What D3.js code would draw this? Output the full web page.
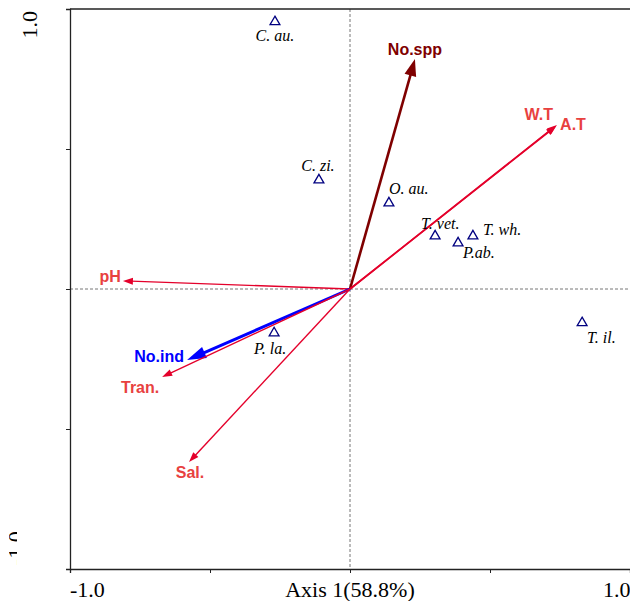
<!DOCTYPE html>
<html>
<head>
<meta charset="utf-8">
<script src="https://cdn.jsdelivr.net/npm/d3@7"></script>
<style>
  body { margin: 0; background: #fff; }
  svg { display: block; }
</style>
</head>
<body>
<div id="chart"></div>
<script>
// species scores (axis 1, axis 2)
const species = ["C. au.", "C. zi.", "O. au.", "T. vet.", "P.ab.", "T. wh.", "T. il.", "P. la."]
const spX = [-0.268, -0.111, 0.139, 0.304, 0.386, 0.439, 0.829, -0.271]
const spY = [0.954, 0.389, 0.307, 0.189, 0.164, 0.189, -0.121, -0.157]

// variable arrows
const vars = ["No.spp", "W.T", "A.T", "pH", "No.ind", "Tran.", "Sal."]
const varX = [0.232, 0.739, 0.736, -0.811, -0.582, -0.671, -0.575]
const varY = [0.821, 0.586, 0.582, 0.029, -0.254, -0.314, -0.618]

const xTicks = [-1, -0.5, 0, 0.5, 1]
const yTicks = [-1, -0.5, 0, 0.5, 1]
const xTitle = "Axis 1(58.8%)"

const width = 630, height = 601
const pLeft = 70, pRight = 630, pTop = 9, pBottom = 569

const x = d3.scaleLinear().domain([-1, 1]).range([pLeft, pRight])
const y = d3.scaleLinear().domain([-1, 1]).range([pBottom, pTop])

const svg = d3.select('#chart').append('svg')
  .attr('width', width).attr('height', height)

// styles for arrows (line colour, label colour, width, head)
const arrowStyle = {
  "No.spp": { c: "#7f0000", lc: "#7f0000", w: 2.6, hl: 17, hw: 12, dx: 0, dy: -4, anchor: "middle" },
  "W.T": { c: "#e4002b", lc: "#e8413f", w: 1.6, hl: 10, hw: 7, dx: -4, dy: -5, anchor: "end" },
  "A.T": { c: "#e4002b", lc: "#e8413f", w: 1.6, hl: 10, hw: 7, dx: 4, dy: 4, anchor: "start" },
  "pH": { c: "#e4002b", lc: "#e8413f", w: 1.4, hl: 10, hw: 7, dx: -2, dy: 1, anchor: "end" },
  "No.ind": { c: "#0000ff", lc: "#0000ff", w: 3, hl: 19, hw: 12, dx: -3, dy: 2, anchor: "end" },
  "Tran.": { c: "#e4002b", lc: "#e8413f", w: 1.4, hl: 10, hw: 7, dx: -22, dy: 16, anchor: "middle" },
  "Sal.": { c: "#e4002b", lc: "#e8413f", w: 1.4, hl: 10, hw: 7, dx: 1, dy: 16, anchor: "middle" }
}

// label offsets for species
const spLab = {
  "C. au.": [0, 19, "middle"],
  "C. zi.": [-1, -9, "middle"],
  "O. au.": [0, -9, "start"],
  "T. vet.": [-14, -7, "start"],
  "P.ab.": [5, 15, "start"],
  "T. wh.": [10, -1, "start"],
  "T. il.": [5, 20, "start"],
  "P. la.": [-4, 21, "middle"]
}

// dashed zero lines
svg.append('line')
  .attr('x1', x(0)).attr('x2', x(0)).attr('y1', y(1)).attr('y2', y(-1))
  .attr('stroke', '#777').attr('stroke-dasharray', '3,2').attr('stroke-width', 1)
svg.append('line')
  .attr('x1', x(-1)).attr('x2', x(1)).attr('y1', y(0)).attr('y2', y(0))
  .attr('stroke', '#777').attr('stroke-dasharray', '3,2').attr('stroke-width', 1)

// frame: left, bottom, top
svg.append('line').attr('x1', pLeft).attr('x2', pRight).attr('y1', pTop).attr('y2', pTop)
  .attr('stroke', '#222').attr('stroke-width', 1.3)

const xAxis = svg.append('g')
  .attr('transform', `translate(0,${pBottom})`)
  .call(d3.axisBottom(x).tickValues(xTicks).tickSize(4).tickFormat(''))
const yAxis = svg.append('g')
  .attr('transform', `translate(${pLeft},0)`)
  .call(d3.axisLeft(y).tickValues(yTicks).tickSize(4).tickFormat(''))
svg.selectAll('.domain').attr('stroke', '#222').attr('stroke-width', 1.3)
svg.selectAll('.tick line').attr('stroke', '#222')

// axis texts
const serif = "'Liberation Serif', 'Times New Roman', serif"
svg.append('text').attr('x', x(-1)).attr('y', 597)
  .attr('font-family', serif).attr('font-size', 22).attr('fill', '#000')
  .text('-1.0')
svg.append('text').attr('x', x(1) - 27).attr('y', 597)
  .attr('font-family', serif).attr('font-size', 22).attr('fill', '#000')
  .text('1.0')
svg.append('text').attr('x', x(0)).attr('y', 597).attr('text-anchor', 'middle')
  .attr('font-family', serif).attr('font-size', 22).attr('fill', '#000')
  .text(xTitle)
svg.append('text')
  .attr('transform', `translate(37,${y(1) + 2}) rotate(-90)`)
  .attr('text-anchor', 'end')
  .attr('font-family', serif).attr('font-size', 22).attr('fill', '#000')
  .text('1.0')

// bottom y label, mostly clipped away
svg.append('clipPath').attr('id', 'cl')
  .append('rect').attr('x', 9).attr('y', 520).attr('width', 8).attr('height', 50)
svg.append('g').attr('clip-path', 'url(#cl)')
  .append('text')
  .attr('transform', `translate(23,${y(-1) - 3}) rotate(-90)`)
  .attr('font-family', serif).attr('font-size', 22).attr('fill', '#000')
  .text('-1.0')

// arrows
const sans = "'Liberation Sans', Arial, sans-serif"
const ag = svg.append('g')
vars.forEach((v, i) => {
  const s = arrowStyle[v]
  const x0 = x(0), y0 = y(0), x1 = x(varX[i]), y1 = y(varY[i])
  const ang = Math.atan2(y1 - y0, x1 - x0)
  const bx = x1 - Math.cos(ang) * s.hl, by = y1 - Math.sin(ang) * s.hl
  ag.append('line')
    .attr('x1', x0).attr('y1', y0).attr('x2', bx + Math.cos(ang) * 2).attr('y2', by + Math.sin(ang) * 2)
    .attr('stroke', s.c).attr('stroke-width', s.w)
  const px = -Math.sin(ang) * s.hw / 2, py = Math.cos(ang) * s.hw / 2
  ag.append('path')
    .attr('d', `M${x1},${y1}L${bx + px},${by + py}L${bx - px},${by - py}Z`)
    .attr('fill', s.c)
})
vars.forEach((v, i) => {
  const s = arrowStyle[v]
  svg.append('text')
    .attr('x', x(varX[i]) + s.dx).attr('y', y(varY[i]) + s.dy)
    .attr('text-anchor', s.anchor)
    .attr('font-family', sans).attr('font-weight', 'bold').attr('font-size', 16)
    .attr('fill', s.lc)
    .text(v)
})

// species points
const tri = d3.symbol().type(d3.symbolTriangle).size(42)
species.forEach((sp, i) => {
  svg.append('path')
    .attr('d', tri)
    .attr('transform', `translate(${x(spX[i])},${y(spY[i])})`)
    .attr('fill', 'none').attr('stroke', '#000080').attr('stroke-width', 1.3)
  const o = spLab[sp]
  svg.append('text')
    .attr('x', x(spX[i]) + o[0]).attr('y', y(spY[i]) + o[1])
    .attr('text-anchor', o[2])
    .attr('font-family', serif).attr('font-style', 'italic').attr('font-size', 16)
    .attr('fill', '#000')
    .text(sp)
})
</script>
</body>
</html>
